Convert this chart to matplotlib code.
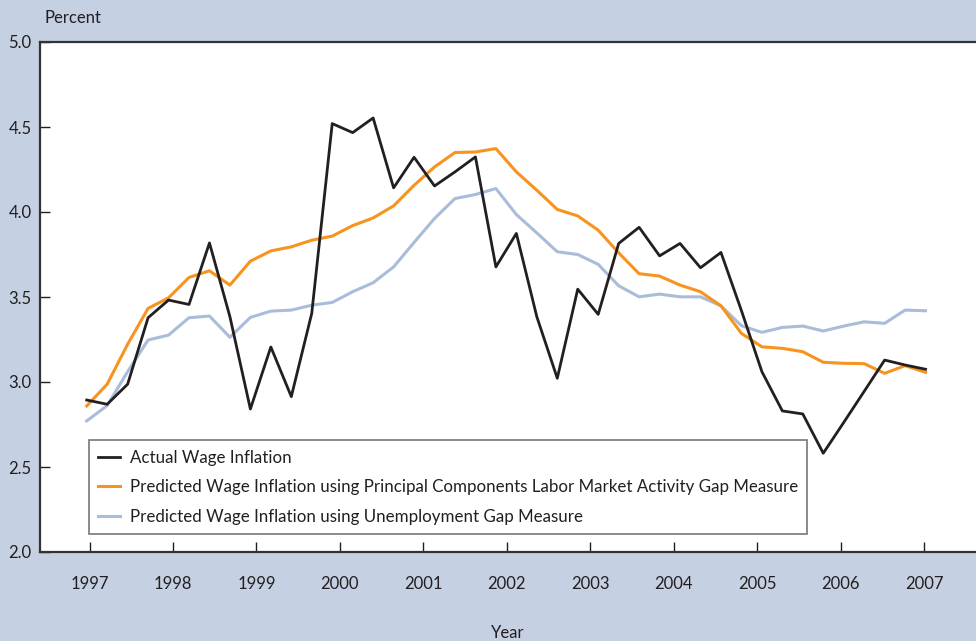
import matplotlib
matplotlib.use("Agg")
import matplotlib.pyplot as plt
from matplotlib import font_manager

avail = {f.name for f in font_manager.fontManager.ttflist}
fam = [f for f in ["Liberation Sans Narrow", "Lato", "DejaVu Sans"] if f in avail]
plt.rcParams['font.family'] = fam

years = [1997, 1998, 1999, 2000, 2001, 2002, 2003, 2004, 2005, 2006, 2007]

actual = [2.894, 2.869, 2.987, 3.378, 3.482, 3.456, 3.818, 3.384, 2.841, 3.206,
          2.914, 3.404, 4.520, 4.467, 4.553, 4.142, 4.322, 4.153, 4.236, 4.324,
          3.677, 3.874, 3.384, 3.022, 3.546, 3.398, 3.815, 3.910, 3.742, 3.815,
          3.672, 3.762, 3.420, 3.061, 2.830, 2.812, 2.581, 2.762, 2.945, 3.129,
          3.100, 3.075]

pc_gap = [2.859, 2.987, 3.222, 3.433, 3.495, 3.615, 3.654, 3.570, 3.711, 3.771,
          3.795, 3.834, 3.858, 3.920, 3.965, 4.036, 4.157, 4.265, 4.350, 4.353,
          4.373, 4.236, 4.128, 4.015, 3.977, 3.893, 3.760, 3.637, 3.623, 3.570,
          3.531, 3.448, 3.286, 3.207, 3.198, 3.178, 3.116, 3.110, 3.108, 3.051,
          3.096, 3.057]

unemp_gap = [2.771, 2.861, 3.061, 3.247, 3.276, 3.378, 3.388, 3.263, 3.380, 3.417,
             3.423, 3.452, 3.468, 3.531, 3.584, 3.677, 3.821, 3.962, 4.079, 4.103,
             4.138, 3.985, 3.877, 3.766, 3.750, 3.692, 3.566, 3.501, 3.517, 3.501,
             3.501, 3.448, 3.331, 3.292, 3.321, 3.329, 3.300, 3.329, 3.354, 3.345,
             3.423, 3.419]

labels = ["Actual Wage Inflation",
          "Predicted Wage Inflation using Principal Components Labor Market Activity Gap Measure",
          "Predicted Wage Inflation using Unemployment Gap Measure"]

bg = "#c5d0e2"
fs = 12
fig = plt.figure(figsize=(9.76, 6.41), dpi=100, facecolor=bg)
ax = fig.add_axes([40/976, 89/641, 936/976, 510/641])
ax.set_facecolor("white")

x = list(range(len(actual)))
ax.plot(x, unemp_gap, color="#a9bcd9", lw=2.2, label=labels[2])
ax.plot(x, pc_gap, color="#f7941d", lw=2.2, label=labels[1])
ax.plot(x, actual, color="#231f20", lw=2.0, label=labels[0])

# x mapping: pixel = 86.7 + 20.46*i ; ticks at 1997 -> 89.6 px, year spacing 83.44 px
tick_pos = [(89.6 + 83.44*k - 86.7)/20.46 for k in range(len(years))]
ax.set_xticks(tick_pos)
ax.set_xticklabels([str(y) for y in years])
x0 = (40 - 86.7)/20.46
x1 = (976 - 86.7)/20.46
ax.set_xlim(x0, x1)
ax.set_ylim(2.0, 5.0)
ax.set_yticks([2.0, 2.5, 3.0, 3.5, 4.0, 4.5, 5.0])
ax.set_yticklabels(["2.0", "2.5", "3.0", "3.5", "4.0", "4.5", "5.0"])

ax.tick_params(axis='x', direction='in', length=7, width=1, pad=17, labelsize=fs, colors="#231f20")
ax.tick_params(axis='y', direction='in', length=7, width=1, pad=6, labelsize=fs, colors="#231f20")
for s in ['left', 'bottom', 'top']:
    ax.spines[s].set_color("#333333")
    ax.spines[s].set_linewidth(1.6)
ax.spines['right'].set_visible(False)

ax.set_xlabel("Year", fontsize=fs, labelpad=24, color="#231f20")
fig.text(45/976, 1 - 18/641, "Percent", fontsize=fs, ha='left', va='center', color="#231f20")

h, l = ax.get_legend_handles_labels()
leg = ax.legend([h[2], h[1], h[0]], [l[2], l[1], l[0]],
                loc='lower left', bbox_to_anchor=((89-40)/936, (552-534)/510),
                fontsize=12.2, frameon=True, fancybox=False, handlelength=1.3,
                handletextpad=0.55, borderpad=0.55, labelspacing=0.8, borderaxespad=0)
leg.get_frame().set_edgecolor("#555555")
leg.get_frame().set_linewidth(1.2)
for t in leg.get_texts():
    t.set_color("#231f20")

fig.savefig("out.png", dpi=100, facecolor=bg)
